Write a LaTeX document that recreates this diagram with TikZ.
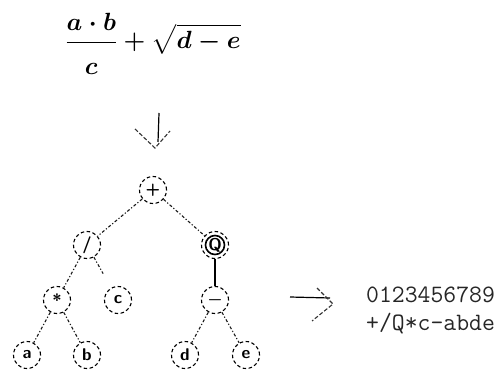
\documentclass[tikz,border=0pt]{standalone}
\usepackage{amsmath}
\usepackage{fontspec}
\usetikzlibrary{calc}
\newcommand{\myformula}{\fontsize{29}{34}\selectfont$\displaystyle\boldsymbol{\frac{a\cdot b}{\raisebox{-7pt}{$\boldsymbol{c}$}}+\sqrt{d-e}}$}
\tikzset{
  tnode/.style={circle,draw=black,line width=1.1pt,dash pattern=on 3.5pt off 2.5pt,minimum size=27pt,inner sep=0pt,font=\sffamily\bfseries\fontsize{17}{17}\selectfont},
  tedge/.style={draw=black!90,line width=1.1pt,dash pattern=on 3pt off 2pt on 1.2pt off 2pt},
  arrowstem/.style={draw=black,line width=1.2pt},
  arrowhd/.style={draw=black!80,line width=1.1pt,dash pattern=on 4pt off 2pt},
  outtext/.style={anchor=base west,inner sep=0pt,font=\ttfamily\fontsize{25}{25}\selectfont,text=black!85}
}
\begin{document}
\begin{tikzpicture}[x=1pt,y=-1pt]
\useasboundingbox (0,0) rectangle (502,374);
\node[inner sep=0pt,anchor=base] (formula) at (153,49) {\myformula};
\coordinate (dtop) at (159,113);
\coordinate (dstemend) at (158,142);
\coordinate (dtip) at (155,148);
\coordinate (dl) at (135,129);
\coordinate (dr) at (170,131);
\draw[arrowstem] (dtop) -- (dstemend);
\draw[arrowhd] (dl) -- (dtip) -- (dr);
\node[tnode] (plus) at (153,190) {+};
\node[tnode] (slash) at (87,245) {/};
\node[tnode] (q) at (215,245) {Q};
\draw[line width=1.6pt] (q) circle (9.5pt);
\node[tnode] (star) at (57,300) {*};
\node[tnode] (c) at (118,300) {c};
\node[tnode] (minus) at (215,300) {$\boldsymbol{-}$};
\node[tnode] (a) at (27,355) {a};
\node[tnode] (b) at (87,355) {b};
\node[tnode] (d) at (185,355) {d};
\node[tnode] (e) at (246,355) {e};
\coordinate (cstart) at ($(slash)!14pt!(c)$);
\coordinate (cend) at ($(slash)!0.52!(c)$);
\path[tedge] (plus) -- (slash);
\path[tedge] (plus) -- (q);
\path[tedge] (slash) -- (star);
\path[tedge] (cstart) -- (cend);
\draw[line width=1.2pt] (q.south) -- (minus.north);
\path[tedge] (star) -- (a);
\path[tedge] (star) -- (b);
\path[tedge] (minus) -- (d);
\path[tedge] (minus) -- (e);
\coordinate (rstart) at (290,297);
\coordinate (rend) at (330,298);
\coordinate (ru) at (317,288);
\coordinate (rtip) at (333,304);
\coordinate (rl) at (312,321);
\draw[arrowstem] (rstart) -- (rend);
\draw[arrowhd] (ru) -- (rtip) -- (rl);
\node[outtext] (digits) at (366,302) {0123456789};
\node[outtext] (code) at (366,330) {+/Q*c-abde};
\end{tikzpicture}
\end{document}
